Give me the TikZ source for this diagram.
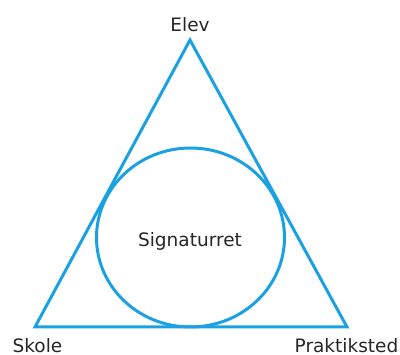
\documentclass[tikz,border=0pt]{standalone}
\usepackage{fontspec}
\setsansfont{DejaVu Sans}
\usepackage{xcolor}
\usepackage{tikz}
\usetikzlibrary{positioning}

\definecolor{signblue}{RGB}{27,161,226}

\begin{document}
\begin{tikzpicture}[x=1pt, y=-1pt, every node/.style={font=\sffamily\fontsize{18.5}{22}\selectfont, text=black!85}]
    % Styles
    \tikzstyle{outline} = [draw=signblue, line width=3pt, line join=miter]
    \tikzstyle{corner} = [anchor=base, inner sep=0pt]

    \useasboundingbox (0,0) rectangle (400,355);

    % Corners
    \coordinate (top) at (190,40);
    \coordinate (left) at (35,327);
    \coordinate (right) at (347,327);

    % Labels
    \node[corner] (elev) at (190,31.5) {Elev};
    \node[corner] (skole) at (37.5,353) {Skole};
    \node[corner] (praktik) at (346.5,353) {Praktiksted};

    % Triangle and circle
    \draw[outline] (top) -- (right) -- (left) -- cycle;
    \draw[outline] (190.5,237.5) ellipse [x radius=94, y radius=89.5];
    \node[corner] (signatur) at (190,246.5) {Signaturret};
\end{tikzpicture}
\end{document}
